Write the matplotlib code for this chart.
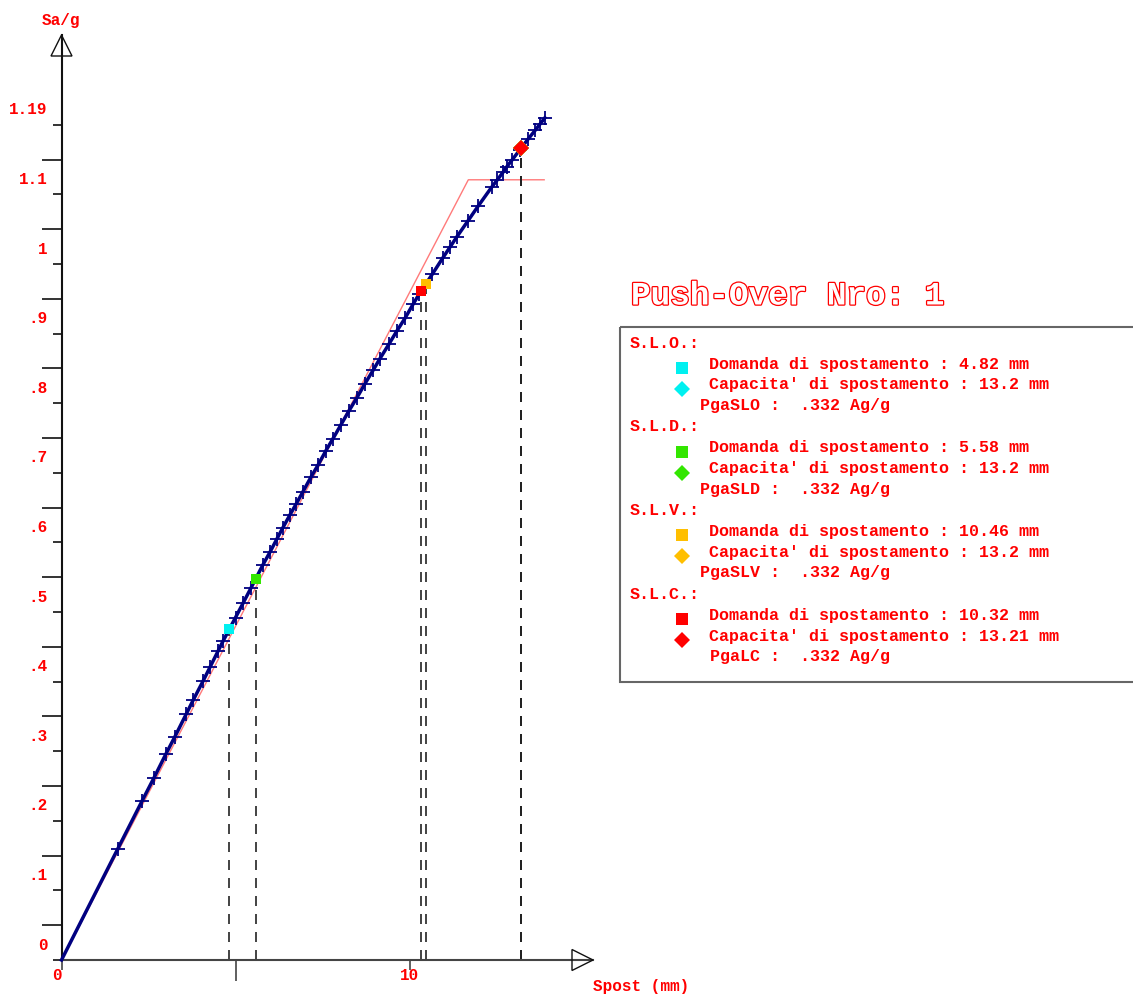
import matplotlib
matplotlib.use("Agg")
import matplotlib.pyplot as plt
import matplotlib.patheffects as pe
from matplotlib.patches import Polygon, Rectangle

plt.rcParams['font.family'] = ['Liberation Mono', 'DejaVu Sans Mono']

# Push-over capacity curve: displacement (mm) vs spectral acceleration (g)
spost_mm = [0, 1.62, 2.31, 2.66, 3.00, 3.26, 3.58, 3.78, 4.07, 4.27, 4.50, 4.64,
            5.00, 5.22, 5.45, 5.79, 5.99, 6.19, 6.36, 6.57, 6.74, 6.94, 7.17,
            7.37, 7.60, 7.80, 8.03, 8.26, 8.49, 8.72, 8.95, 9.15, 9.41, 9.64,
            9.87, 10.10, 10.28, 10.65, 10.96, 11.16, 11.36, 11.68, 11.97, 12.37,
            12.51, 12.69, 12.80, 12.94, 13.17, 13.40, 13.61, 13.75, 13.89]
sa_g = [0, 0.160, 0.228, 0.262, 0.296, 0.321, 0.353, 0.373, 0.401, 0.421, 0.444, 0.458,
        0.492, 0.513, 0.535, 0.568, 0.586, 0.605, 0.621, 0.640, 0.655, 0.673, 0.694,
        0.711, 0.732, 0.749, 0.769, 0.789, 0.808, 0.828, 0.847, 0.864, 0.885, 0.904,
        0.922, 0.942, 0.957, 0.985, 1.009, 1.024, 1.039, 1.062, 1.083, 1.111,
        1.120, 1.132, 1.140, 1.149, 1.164, 1.179, 1.192, 1.201, 1.210]

# Equivalent bilinear system
bilin_spost = [0, 11.69, 13.87]
bilin_sa = [0, 1.121, 1.121]

# Limit states
levels = ['S.L.O.', 'S.L.D.', 'S.L.V.', 'S.L.C.']
pga_names = ['PgaSLO', 'PgaSLD', 'PgaSLV', 'PgaLC']
level_colors = ['#00f0f0', '#33e600', '#ffbf00', '#ff0000']
demand_mm = [4.82, 5.58, 10.46, 10.32]
demand_sa = [0.475, 0.548, 0.971, 0.961]
capacity_mm = [13.2, 13.2, 13.2, 13.21]
capacity_sa = [1.166, 1.166, 1.166, 1.167]
pga_ag = [0.332, 0.332, 0.332, 0.332]

# Axis ticks
y_ticks = [0, 0.1, 0.2, 0.3, 0.4, 0.5, 0.6, 0.7, 0.8, 0.9, 1.0, 1.1, 1.2]
y_tick_labels = ['0', '.1', '.2', '.3', '.4', '.5', '.6', '.7', '.8', '.9', '1', '1.1', '1.19']
y_minor = [0.05, 0.15, 0.25, 0.35, 0.45, 0.55, 0.65, 0.75, 0.85, 0.95, 1.05, 1.15]
x_ticks = [0, 10]
x_tick_labels = ['0', '10']
x_minor = [5]

W, H = 1133, 994
X0, Y0 = 61.5, 960.0          # origin in pixels
PX_MM, PX_G = 34.8, 696.0     # pixels per mm / per g

fig = plt.figure(figsize=(W / 100, H / 100), dpi=100)
fig.patch.set_facecolor('white')
ax = fig.add_axes([0, 0, 1, 1])
ax.set_xlim(-X0 / PX_MM, (W - X0) / PX_MM)
ax.set_ylim(-(H - Y0) / PX_G, Y0 / PX_G)
ax.patch.set_facecolor('white')

RED = '#ff0000'
tick_font = dict(fontsize=11.5, fontweight='bold', color=RED)

# axes with arrows
for s in ('top', 'right'):
    ax.spines[s].set_visible(False)
ax.spines['left'].set_position(('data', 0))
ax.spines['bottom'].set_position(('data', 0))
ax.spines['left'].set_bounds(0, (Y0 - 35) / PX_G)
ax.spines['bottom'].set_bounds(0, (593 - X0) / PX_MM)
ax.spines['left'].set_color('#111111')
ax.spines['bottom'].set_color('#444444')
ax.spines['left'].set_linewidth(1.5)
ax.spines['bottom'].set_linewidth(1.5)
ax.yaxis.set_ticks_position('left')
ax.xaxis.set_ticks_position('bottom')
ax.set_yticks(y_ticks)
ax.set_yticks(y_minor, minor=True)
ax.set_xticks(x_ticks)
ax.set_xticks(x_minor, minor=True)
ax.tick_params(axis='y', which='major', length=6.5, width=1.2, color='#111111',
               labelleft=False)
ax.tick_params(axis='y', which='minor', length=14.4, width=1.2, color='#111111')
ax.tick_params(axis='x', which='major', length=7.2, width=1.2, color='#444444',
               labelbottom=False)
ax.tick_params(axis='x', which='minor', length=15.1, width=1.2, color='#444444')

for v, lbl in zip(y_ticks, y_tick_labels):
    ax.annotate(lbl, xy=(0, v), xytext=(-14, 15), textcoords='offset pixels',
                ha='right', va='center', **tick_font)
for v, lbl in zip(x_ticks, x_tick_labels):
    dx = -5 if v == 0 else 0
    ax.annotate(lbl, xy=(v, 0), xytext=(dx, -16), textcoords='offset pixels',
                ha='center', va='center', **tick_font)

# bilinear and capacity curve
ax.plot(bilin_spost, bilin_sa, color='#ff7a7a', lw=1.0, zorder=2)
ax.plot(spost_mm, sa_g, color='#000080', lw=2.5, marker='+', ms=10, mew=1.3,
        markevery=slice(1, None), zorder=3)

# projections of demand / capacity points
for x, y in list(zip(demand_mm, demand_sa)) + list(zip(capacity_mm, capacity_sa)):
    ax.plot([x, x], [0, y], color='#222222', lw=1.2, dashes=(6, 4.8), zorder=2.5)

for x, y, c in zip(demand_mm, demand_sa, level_colors):
    ax.plot([x], [y], marker='s', ms=7.5, mew=0, color=c, zorder=5)
for x, y, c in zip(capacity_mm, capacity_sa, level_colors):
    ax.plot([x], [y], marker='D', ms=8.6, mew=0, color=c, zorder=5)

# overlay in pixel units for decorations and the summary panel
lax = fig.add_axes([0, 0, 1, 1])
lax.set_xlim(0, W)
lax.set_ylim(H, 0)
lax.axis('off')
lax.patch.set_alpha(0)

lax.add_patch(Polygon([(61.5, 35), (51, 56), (72, 56)], closed=True,
                      fill=False, ec='#111111', lw=1.0))
lax.add_patch(Polygon([(593, 960), (572, 949.5), (572, 970.5)], closed=True,
                      fill=False, ec='#111111', lw=1.0))
lax.text(42, 21, 'Sa/g', ha='left', va='center', **tick_font)
lax.text(593, 987, 'Spost (mm)', ha='left', va='center', **tick_font)

lax.text(631, 296, 'Push-Over Nro: 1', fontsize=23.5, fontweight='bold',
         color='white', ha='left', va='center',
         path_effects=[pe.withStroke(linewidth=1.8, foreground=RED)])

lax.add_patch(Rectangle((620, 326.5), 530, 355.5, fill=False, ec='#666666', lw=1.5))

txt = dict(fontsize=12, fontweight='bold', color=RED, va='center')
for i, (lev, name, c, dm, cm, pga) in enumerate(zip(levels, pga_names, level_colors,
                                                     demand_mm, capacity_mm, pga_ag)):
    y0 = 343 + 83.7 * i
    lax.text(630, y0, f'{lev}:', ha='left', **txt)
    lax.plot([682], [y0 + 25], marker='s', ms=8, mew=0, color=c)
    lax.text(709, y0 + 21, f'Domanda di spostamento : {dm:g} mm', ha='left', **txt)
    lax.plot([682], [y0 + 46], marker='D', ms=8.5, mew=0, color=c)
    lax.text(709, y0 + 42, f"Capacita' di spostamento : {cm:g} mm", ha='left', **txt)
    pga_txt = f'{pga:.3f}'.lstrip('0')
    lax.text(700, y0 + 62.5, f'{name:>6} :  {pga_txt} Ag/g', ha='left', **txt)

fig.savefig('out.png', dpi=100, facecolor='white')
